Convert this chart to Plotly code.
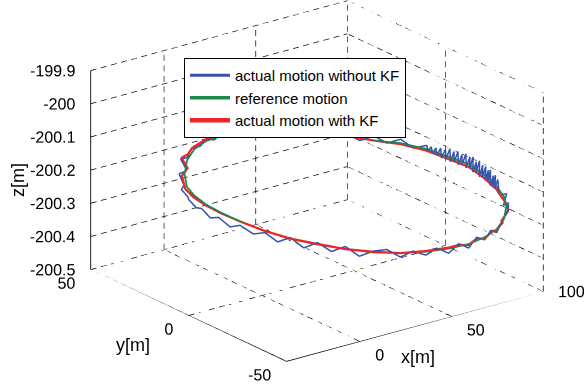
import numpy as np
import plotly.graph_objects as go

# ---------------- data ----------------
x_ticks = [0, 50, 100]
x_tick_labels = ["0", "50", "100"]
y_ticks = [-50, 0, 50]
y_tick_labels = ["-50", "0", "50"]
z_ticks = [-199.9, -200.0, -200.1, -200.2, -200.3, -200.4, -200.5]
z_tick_labels = ["-199.9", "-200", "-200.1", "-200.2", "-200.3", "-200.4", "-200.5"]
x_range = [-40, 100]
y_range = [-50, 50]
z_range = [-200.5, -199.9]

# reference motion
ref_x = [85.92, 89.11, 90.95, 91.41, 90.44, 88.10, 84.45, 79.60, 73.70, 66.93, 59.50, 51.62, 43.53, 35.50, 27.76,
         20.53, 14.05, 8.51, 4.08, 0.89, -0.95, -1.41, -0.44, 1.90, 5.55, 10.40, 16.30, 23.07, 30.50, 38.38, 46.47,
         54.50, 62.24, 69.47, 75.95, 81.49, 85.92]
ref_y = [-44.36, -40.14, -34.72, -28.25, -20.95, -13.02, -4.71, 3.73, 12.04, 19.96, 27.26, 33.73, 39.15, 43.36,
         46.25, 47.71, 47.72, 46.24, 43.36, 39.14, 33.72, 27.25, 19.95, 12.02, 3.71, -4.73, -13.04, -20.96, -28.26,
         -34.73, -40.15, -44.36, -47.25, -48.71, -48.72, -47.24, -44.36]
ref_z = [-200.237, -200.225, -200.212, -200.198, -200.183, -200.179, -200.172, -200.171, -200.177, -200.176,
         -200.176, -200.175, -200.179, -200.185, -200.188, -200.197, -200.212, -200.233, -200.261, -200.282,
         -200.290, -200.299, -200.306, -200.315, -200.325, -200.332, -200.335, -200.337, -200.338, -200.334,
         -200.327, -200.318, -200.308, -200.294, -200.280, -200.262, -200.237]

# actual motion without KF
raw_x = [87.4, 86.5, 90.6, 89.5,
         91.5, 90.6, 91.6, 90.7, 91.8, 90.8, 91.7, 90.9, 91.9, 90.9, 91.9, 90.8, 91.8, 90.7, 91.6, 90.5, 91.4,
         90.3, 91.2, 90.1, 91.0, 89.8, 90.6, 89.3, 90.1, 88.9, 89.6, 88.4, 89.1, 88.0, 88.6, 87.4, 87.9, 86.7,
         87.1, 86.0, 86.3, 85.3, 85.5, 84.6, 84.8,
         82.03, 79.60, 76.65, 73.70, 70.32, 66.93, 63.22, 59.50, 55.56, 51.62, 47.58, 43.53, 39.52, 35.50, 31.63,
         27.76, 24.15, 20.53, 17.29, 12.5, 9.3, 5.0, 6.8, 1.1, 1.5, -2.1, -1.5, -4.0, -3.2, -3.9, -2.9, -2.4, -0.3,
         0.9, 3.73, 5.55, 7.98, 10.40, 13.35, 16.30, 19.69, 23.07, 26.79, 30.50, 34.44, 38.38, 42.43, 46.47, 50.49,
         54.50, 58.37, 62.24, 65.86, 69.47, 72.71, 75.95, 79.7, 80.5, 85.2, 86.9]
raw_y = [-44.4, -42.3, -40.1, -37.4,
         -34.72, -34.07, -33.43, -32.78, -32.13, -31.49, -30.84, -30.19, -29.54, -28.90, -28.25, -27.52, -26.79,
         -26.06, -25.33, -24.60, -23.87, -23.14, -22.41, -21.68, -20.95, -20.16, -19.36, -18.57, -17.78, -16.99,
         -16.19, -15.40, -14.61, -13.81, -13.02, -12.19, -11.36, -10.53, -9.70, -8.87, -8.03, -7.20, -6.37,
         -5.54, -4.71,
         -0.49, 3.73, 7.89, 12.04, 16.00, 19.96, 23.61, 27.26, 30.50, 33.73, 36.44, 39.15, 41.26, 43.36, 44.81,
         46.25, 46.98, 47.71, 47.72, 47.72, 46.98, 46.24, 44.80, 43.36, 41.25, 39.14, 36.43, 33.72, 30.49, 27.25,
         23.60, 19.95, 15.99, 12.02, 7.87, 3.71, -0.51, -4.73, -8.89, -13.04, -17.00, -20.96, -24.61, -28.26,
         -31.50, -34.73, -37.44, -40.15, -42.26, -44.36, -45.81, -47.25, -47.98, -48.71, -48.72, -48.72, -47.98,
         -47.24, -45.80, -44.4]
raw_z = [-200.229, -200.241, -200.219, -200.227,
         -200.192, -200.221, -200.183, -200.220, -200.188, -200.219, -200.174, -200.210, -200.179, -200.211,
         -200.171, -200.205, -200.171, -200.207, -200.162, -200.197, -200.169, -200.200, -200.158, -200.193,
         -200.161, -200.195, -200.156, -200.188, -200.162, -200.193, -200.156, -200.188, -200.160, -200.191,
         -200.155, -200.186, -200.160, -200.187, -200.160, -200.182, -200.163, -200.180, -200.163, -200.177,
         -200.162,
         -200.178, -200.159, -200.178, -200.163, -200.183, -200.166, -200.176, -200.164, -200.180, -200.167,
         -200.183, -200.169, -200.182, -200.177, -200.192, -200.182, -200.197, -200.192, -200.208, -200.208,
         -200.229, -200.223, -200.257, -200.255, -200.284, -200.286, -200.301, -200.298, -200.315, -200.307,
         -200.327, -200.316, -200.337, -200.323, -200.342, -200.329, -200.349, -200.328, -200.352, -200.329,
         -200.350, -200.329, -200.354, -200.334, -200.326, -200.346, -200.327, -200.337, -200.317, -200.332,
         -200.305, -200.320, -200.291, -200.302, -200.279, -200.290, -200.265, -200.270, -200.244, -200.233]

# actual motion with KF
kf_x = [87.1, 88.2, 90.7, 91.2, 90.44, 88.10, 84.45, 79.60, 73.70, 66.93, 59.50, 51.62, 43.53, 35.50, 27.76, 20.53,
        13.0, 9.8, 5.5, 7.3, 2.6,
        -0.1, -1.5, -1.41, -0.44, 1.90, 5.55, 10.40, 16.30, 23.07, 30.50, 38.38, 46.47, 54.50,
        58.37, 62.24, 65.86, 69.47, 73.7, 75.0, 80.2, 80.0, 85.2, 86.8]
kf_y = [-44.4, -40.1, -34.7, -28.3, -20.95, -13.02, -4.71, 3.73, 12.04, 19.96, 27.26, 33.73, 39.15, 43.36, 46.25,
        47.71, 47.72, 46.98, 46.24, 44.80, 43.36,
        39.14, 33.7, 27.25, 19.95, 12.02, 3.71, -4.73, -13.04, -20.96, -28.26, -34.73, -40.15, -44.36,
        -45.81, -47.25, -47.98, -48.71, -48.72, -48.72, -47.98, -47.24, -45.80, -44.4]
kf_z = [-200.240, -200.228, -200.220, -200.206, -200.191, -200.186, -200.177, -200.174, -200.177, -200.174,
        -200.173, -200.171, -200.174, -200.179, -200.182, -200.191, -200.206,
        -200.219, -200.221, -200.251, -200.263,
        -200.286, -200.294, -200.302, -200.308, -200.315, -200.324, -200.331, -200.333, -200.337, -200.336,
        -200.334, -200.325, -200.315,
        -200.309, -200.311, -200.295, -200.299, -200.280, -200.286, -200.267, -200.266, -200.248, -200.238]

BLUE = "#3552ad"
GREEN = "#1c8a48"
RED = "#ee2626"
FONT = "Arial, Liberation Sans, sans-serif"

# -------------- helpers for the MATLAB-style box --------------
PX = np.array([[1.836, -0.5], [-1.97, -0.92], [0.0, -332.0]])  # approx px per data unit (for dash spacing)


def dashed(p0, p1, on=6.0, off=4.5):
    p0 = np.array(p0, float)
    p1 = np.array(p1, float)
    d = p1 - p0
    L = float(np.hypot(*(d @ PX)))
    xs, ys, zs = [], [], []
    t = 0.0
    while t < 1.0:
        t2 = min(1.0, t + on / L)
        a = p0 + d * t
        b = p0 + d * t2
        xs += [a[0], b[0], None]
        ys += [a[1], b[1], None]
        zs += [a[2], b[2], None]
        t += (on + off) / L
    return xs, ys, zs


xmin, xmax = x_range
ymin, ymax = y_range
zmin, zmax = z_range

grid_segments = []
# back wall y = ymax
for xv in x_ticks:
    grid_segments.append(((xv, ymax, zmin), (xv, ymax, zmax)))
for zv in z_ticks:
    grid_segments.append(((xmin, ymax, zv), (xmax, ymax, zv)))
# right wall x = xmax
for yv in y_ticks:
    if yv != ymax:
        grid_segments.append(((xmax, yv, zmin), (xmax, yv, zmax)))
for zv in z_ticks:
    grid_segments.append(((xmax, ymin, zv), (xmax, ymax, zv)))
# floor z = zmin
for xv in x_ticks:
    if xv != xmax:
        grid_segments.append(((xv, ymin, zmin), (xv, ymax, zmin)))
for yv in y_ticks:
    if yv not in (ymin, ymax):
        grid_segments.append(((xmin, yv, zmin), (xmax, yv, zmin)))

gx, gy, gz = [], [], []
for p0, p1 in grid_segments:
    a, b, c = dashed(p0, p1)
    gx += a
    gy += b
    gz += c

# solid axis lines + ticks
ax_x = [xmin, xmin, None, xmin, xmin, None, xmin, xmax, None]
ax_y = [ymax, ymax, None, ymax, ymin, None, ymin, ymin, None]
ax_z = [zmin, zmax, None, zmin, zmin, None, zmin, zmin, None]
for zv in z_ticks:
    ax_x += [xmin, xmin + 2.5, None]
    ax_y += [ymax, ymax, None]
    ax_z += [zv, zv, None]
for yv in y_ticks:
    ax_x += [xmin, xmin + 3.0, None]
    ax_y += [yv, yv, None]
    ax_z += [zmin, zmin, None]
for xv in x_ticks:
    ax_x += [xv, xv, None]
    ax_y += [ymin, ymin + 3.0, None]
    ax_z += [zmin, zmin, None]

fig = go.Figure()

fig.add_trace(go.Scatter3d(x=gx, y=gy, z=gz, mode="lines", line=dict(color="black", width=1.4),
                           showlegend=False, hoverinfo="skip", connectgaps=False))
fig.add_trace(go.Scatter3d(x=ax_x, y=ax_y, z=ax_z, mode="lines", line=dict(color="black", width=1.6),
                           showlegend=False, hoverinfo="skip", connectgaps=False))

# data
fig.add_trace(go.Scatter3d(x=raw_x, y=raw_y, z=raw_z, mode="lines", name="actual motion without KF",
                           line=dict(color=BLUE, width=3)))
fig.add_trace(go.Scatter3d(x=ref_x, y=ref_y, z=ref_z, mode="lines", name="reference motion",
                           line=dict(color=GREEN, width=3.5)))
fig.add_trace(go.Scatter3d(x=kf_x, y=kf_y, z=kf_z, mode="lines", name="actual motion with KF",
                           line=dict(color=RED, width=4.5)))

# tick labels (anchor lifted slightly above the floor so the text sits like MATLAB's)
tf = dict(size=16, family=FONT, color="black")
lift = 0.025
fig.add_trace(go.Scatter3d(x=[xmin] * len(z_ticks), y=[ymax] * len(z_ticks), z=z_ticks, mode="text",
                           text=[t + " " for t in z_tick_labels], textposition="middle left", textfont=tf,
                           showlegend=False, hoverinfo="skip"))
fig.add_trace(go.Scatter3d(x=[xmin] * len(y_ticks), y=y_ticks, z=[zmin + lift] * len(y_ticks), mode="text",
                           text=y_tick_labels, textposition="bottom left", textfont=tf,
                           showlegend=False, hoverinfo="skip"))
fig.add_trace(go.Scatter3d(x=x_ticks, y=[ymin] * len(x_ticks), z=[zmin + lift, zmin + lift, zmin], mode="text",
                           text=x_tick_labels, textposition=["bottom right", "bottom right", "middle right"],
                           textfont=tf, showlegend=False, hoverinfo="skip"))

hidden = dict(showgrid=False, showline=False, zeroline=False, showticklabels=False, ticks="",
              showbackground=False, showspikes=False, title=dict(text=""), autorange=False)

# camera: view direction like MATLAB's default 3-D view
view_dir = np.array([-0.566, -0.742, 0.357])
R = np.array([0.795, -0.606, 0.0])
U = np.array([0.216, 0.284, 0.934])
px_per_unit = 389 / 2.0
center = -(25 * R + 13.5 * U) / px_per_unit
eye = center + 2.5 * view_dir
zoom = 1.66

fig.update_layout(
    width=584, height=389,
    margin=dict(l=0, r=0, t=0, b=0),
    paper_bgcolor="white",
    font=dict(family=FONT, size=16, color="black"),
    scene=dict(
        domain=dict(x=[0, 1], y=[0, 1]),
        xaxis=dict(range=x_range, **hidden),
        yaxis=dict(range=y_range, **hidden),
        zaxis=dict(range=z_range, **hidden),
        aspectmode="manual",
        aspectratio=dict(x=1 * zoom, y=1 * zoom, z=0.66 * zoom),
        camera=dict(projection=dict(type="orthographic"),
                    eye=dict(x=eye[0], y=eye[1], z=eye[2]),
                    up=dict(x=0, y=0, z=1),
                    center=dict(x=center[0], y=center[1], z=center[2])),
    ),
    legend=dict(x=184 / 584, y=1 - 58 / 389, xanchor="left", yanchor="top",
                bordercolor="black", borderwidth=1, bgcolor="white", itemwidth=40,
                font=dict(size=15, family=FONT, color="black"), tracegroupgap=0),
    annotations=[
        dict(text="z[m]", x=18 / 584, y=1 - 180 / 389, xref="paper", yref="paper", showarrow=False,
             xanchor="center", yanchor="middle", textangle=-90, font=dict(size=18, family=FONT)),
        dict(text="y[m]", x=133 / 584, y=1 - 345 / 389, xref="paper", yref="paper", showarrow=False,
             xanchor="center", yanchor="middle", font=dict(size=18, family=FONT)),
        dict(text="x[m]", x=418 / 584, y=1 - 357 / 389, xref="paper", yref="paper", showarrow=False,
             xanchor="center", yanchor="middle", font=dict(size=18, family=FONT)),
    ],
)

fig.write_html("out.html", config=dict(displayModeBar=False))
